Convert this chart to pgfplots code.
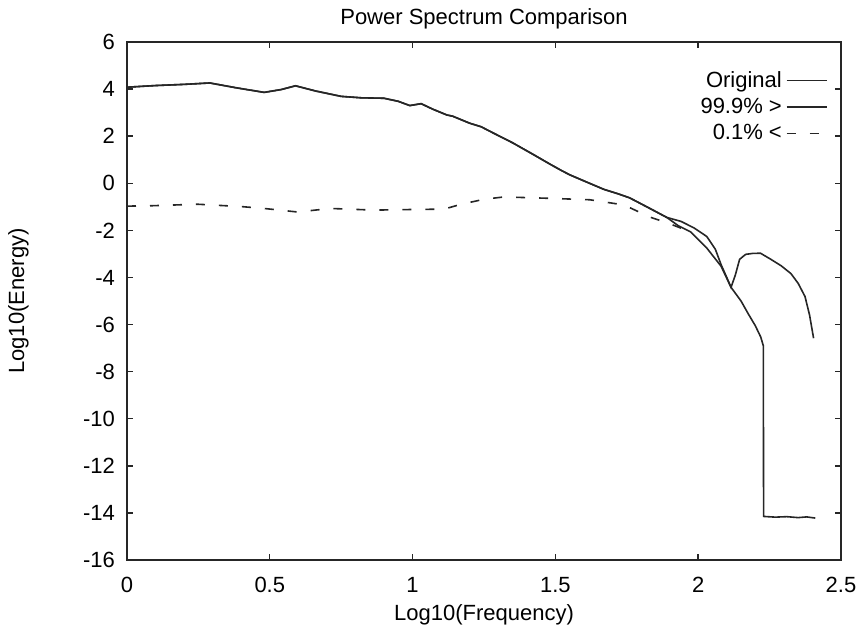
\documentclass[border=0pt]{standalone}
\usepackage{fontspec}
\setmainfont{Liberation Sans}
\usepackage{pgfplots}
\pgfplotsset{compat=1.18}

\begin{document}
\begin{tikzpicture}
  \begin{axis}[
    scale only axis,
    width=357pt, height=259pt,
    xmin=0, xmax=2.5, ymin=-16, ymax=6,
    xtick={0,0.5,1,1.5,2,2.5},
    xticklabels={0,0.5,1,1.5,2,2.5},
    ytick={-16,-14,-12,-10,-8,-6,-4,-2,0,2,4,6},
    yticklabels={-16,-14,-12,-10,-8,-6,-4,-2,0,2,4,6},
    tick align=inside,
    major tick length=3pt,
    minor tick num=0,
    axis line style={black!85, line width=0.8pt},
    tick style={black!85, line width=0.7pt},
    font=\fontsize{11}{13}\selectfont,
    ticklabel style={font=\fontsize{11}{13}\selectfont},
    yticklabel style={xshift=-2.5pt},
    xticklabel style={yshift=-5pt},
    title={Power Spectrum Comparison},
    title style={at={(axis description cs:0.5,1.021)}, anchor=center},
    xlabel={Log10(Frequency)},
    xlabel style={at={(axis description cs:0.5,-0.105)}, anchor=center},
    ylabel={Log10(Energy)},
    ylabel style={at={(axis description cs:-0.152,0.5)}, anchor=center},
    legend cell align=right,
    legend plot pos=right,
    legend image code/.code={\draw[#1] (0pt,0pt) -- (20pt,0pt);},
    legend style={at={(axis description cs:0.99,0.96)}, anchor=north east,
                  draw=none, fill=none, row sep=0pt,
                  font=\fontsize{11}{13}\selectfont},
  ]
    % Original
    \addplot[black!85, line width=0.8pt] coordinates {
      (0.00,4.08) (0.10,4.15) (0.20,4.20) (0.29,4.26) (0.38,4.06)
      (0.48,3.86) (0.54,3.98) (0.59,4.14) (0.66,3.92) (0.75,3.69)
      (0.82,3.63) (0.90,3.61) (0.95,3.48) (0.99,3.30) (1.03,3.38)
      (1.07,3.15) (1.12,2.90) (1.14,2.85) (1.20,2.55) (1.24,2.40)
      (1.28,2.15) (1.35,1.72) (1.42,1.24) (1.48,0.82) (1.52,0.55)
      (1.55,0.36) (1.60,0.10) (1.67,-0.26) (1.72,-0.45) (1.76,-0.62)
      (1.82,-1.00) (1.89,-1.45) (1.94,-1.62) (1.986,-1.90) (2.03,-2.26)
      (2.06,-2.80) (2.08,-3.45) (2.10,-4.00) (2.115,-4.42) (2.13,-3.90)
      (2.145,-3.23) (2.166,-3.02) (2.19,-2.98) (2.218,-2.97) (2.253,-3.22)
      (2.29,-3.50) (2.325,-3.84) (2.35,-4.25) (2.374,-4.81) (2.39,-5.60)
      (2.404,-6.58)
    };
    % 99.9% >
    \addplot[black!85, line width=0.8pt] coordinates {
      (0.00,4.08) (0.10,4.15) (0.20,4.20) (0.29,4.26) (0.38,4.06)
      (0.48,3.86) (0.54,3.98) (0.59,4.14) (0.66,3.92) (0.75,3.69)
      (0.82,3.63) (0.90,3.61) (0.95,3.48) (0.99,3.30) (1.03,3.38)
      (1.07,3.15) (1.12,2.90) (1.14,2.85) (1.20,2.55) (1.24,2.40)
      (1.28,2.15) (1.35,1.72) (1.42,1.24) (1.48,0.82) (1.52,0.55)
      (1.55,0.36) (1.60,0.10) (1.67,-0.26) (1.72,-0.45) (1.76,-0.62)
      (1.82,-1.00) (1.89,-1.45) (1.93,-1.80) (1.973,-2.06) (2.03,-2.75)
      (2.08,-3.52) (2.115,-4.42) (2.15,-5.00) (2.176,-5.56) (2.20,-6.05)
      (2.219,-6.53) (2.228,-6.90) (2.229,-14.15) (2.27,-14.18)
      (2.31,-14.16) (2.35,-14.20) (2.38,-14.17) (2.41,-14.22)
    };
    % 0.1% <
    \addplot[black!85, line width=0.8pt, dash pattern=on 4.5pt off 7pt] coordinates {
      (0.00,-0.97) (0.072,-0.96) (0.247,-0.89) (0.40,-0.99) (0.48,-1.07)
      (0.597,-1.22) (0.713,-1.07) (0.866,-1.14) (1.017,-1.11) (1.11,-1.10)
      (1.167,-0.90) (1.25,-0.68) (1.32,-0.58) (1.48,-0.64) (1.62,-0.70)
      (1.74,-0.92) (1.832,-1.44) (1.90,-1.72) (1.96,-2.00)
    };
    \legend{Original, 99.9\% >, 0.1\% <}
  \end{axis}
  \pgfresetboundingbox
  \path ([shift={(-63.5pt,-35.5pt)}]current axis.south west) rectangle ++(432pt,315.5pt);
\end{tikzpicture}
\end{document}
